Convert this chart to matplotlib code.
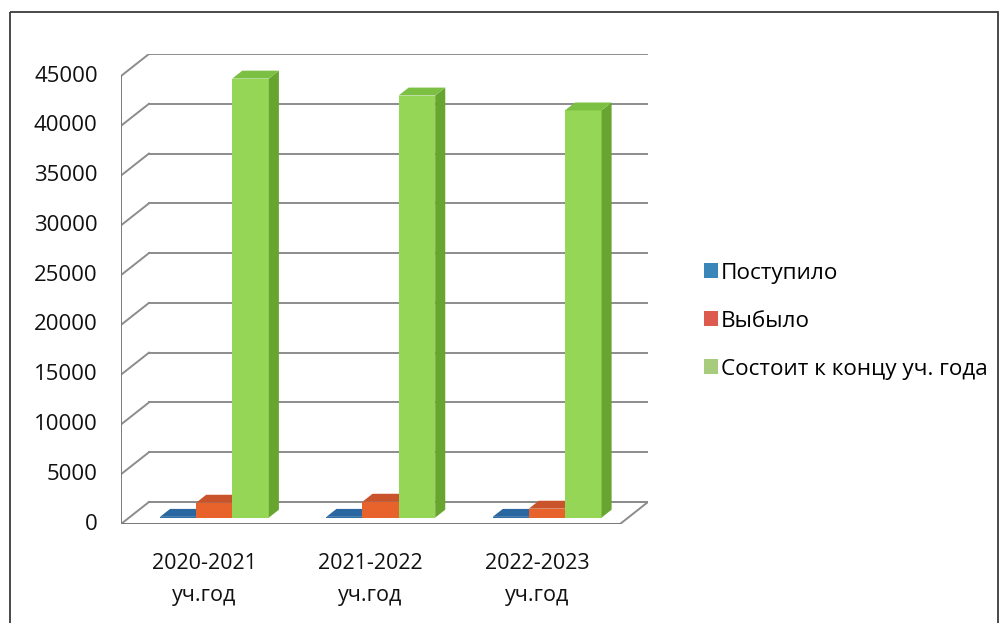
import matplotlib.pyplot as plt
from matplotlib.patches import Polygon, Rectangle

# data
categories = ['2020-2021\nуч.год', '2021-2022\nуч.год', '2022-2023\nуч.год']
series_names = ['Поступило', 'Выбыло', 'Состоит к концу уч. года']
postupilo = [80, 80, 80]
vybylo = [1500, 1600, 900]
sostoit = [44100, 42400, 40900]
y_ticks = [0, 5000, 10000, 15000, 20000, 25000, 30000, 35000, 40000, 45000]

# colours: front, side, top
colors = [('#2f6fa6', '#245a88', '#2a67a0'),
          ('#e8622c', '#b84a1e', '#c9532a'),
          ('#96d656', '#68a530', '#7cc043')]
legend_colors = ['#3a86b8', '#dd5a4e', '#a8cc7e']

plt.rcParams['font.family'] = ['Open Sans', 'DejaVu Sans']

fig = plt.figure(figsize=(10.05, 6.23), dpi=100)

# outer frame
frame = fig.add_axes([0, 0, 1, 1])
frame.set_xlim(0, 1005)
frame.set_ylim(623, 0)
frame.axis('off')
frame.add_patch(Rectangle((10, 12), 988, 620, fill=False, edgecolor='#3a3a3a', lw=1.3))

# 3d look: depth offset in data units
DX = 0.168   # categories
DY = 2210    # value units
ymax = 45000

ax = fig.add_axes([121 / 1005, 1 - 524 / 623, 527 / 1005, 470 / 623])
ax.set_xlim(0, 3 + DX)
ax.set_ylim(0, ymax + DY)
ax.axis('off')

grid_c = '#8c8c8c'
# back wall gridlines + left wall diagonals
for v in y_ticks:
    ax.plot([DX, 3 + DX], [v + DY, v + DY], color=grid_c, lw=1.4, zorder=1)
    ax.plot([0, DX], [v, v + DY], color=grid_c, lw=1.4, zorder=1)
# floor outline
ax.plot([0, 3, 3 + DX, DX], [0, 0, DY, DY], color=grid_c, lw=1.4, zorder=1)

# front axes
ax.plot([0, 0], [0, ymax], color='#7a7a7a', lw=1.4, zorder=5)
for v in y_ticks:
    ax.plot([-0.03, 0], [v, v], color='#7a7a7a', lw=1.4, zorder=5)
    ax.text(-0.14, v, str(v), ha='right', va='center', fontsize=16, color='#111111')
ax.plot([0, 3], [0, 0], color='#7a7a7a', lw=1.4, zorder=5)
for i in range(4):
    ax.plot([i, i], [0, -700], color='#7a7a7a', lw=1.4, zorder=5)
for i, lab in enumerate(categories):
    ax.text(i + 0.5, -2900, lab, ha='center', va='top', fontsize=15.5,
            color='#111111', linespacing=1.7)

# bars
d0, d1 = 0.29, 0.65
width = 0.22
offsets = [0.186, 0.403, 0.62]
all_series = [postupilo, vybylo, sostoit]
for i in range(len(categories)):
    for j, vals in enumerate(all_series):
        v = vals[i]
        x0 = i + offsets[j] + d0 * DX
        y0 = d0 * DY
        ddx = (d1 - d0) * DX
        ddy = (d1 - d0) * DY
        fc, sc, tc = colors[j]
        z = 10 + j
        ax.add_patch(Rectangle((x0, y0), width, v, facecolor=fc, edgecolor='none', zorder=z))
        ax.add_patch(Polygon([(x0 + width, y0), (x0 + width + ddx, y0 + ddy),
                              (x0 + width + ddx, y0 + ddy + v), (x0 + width, y0 + v)],
                             facecolor=sc, edgecolor='none', zorder=z))
        ax.add_patch(Polygon([(x0, y0 + v), (x0 + width, y0 + v),
                              (x0 + width + ddx, y0 + v + ddy), (x0 + ddx, y0 + v + ddy)],
                             facecolor=tc, edgecolor='none', zorder=z))

# legend
handles = [Rectangle((0, 0), 1, 1, facecolor=c, edgecolor='none') for c in legend_colors]
fig.legend(handles, series_names, loc='center left', bbox_to_anchor=(704 / 1005, 1 - 321 / 623),
           frameon=False, fontsize=16.2, handlelength=0.6, handleheight=0.6,
           handletextpad=0.15, labelspacing=1.2, borderaxespad=0, borderpad=0)

fig.savefig('out.png', dpi=100)
